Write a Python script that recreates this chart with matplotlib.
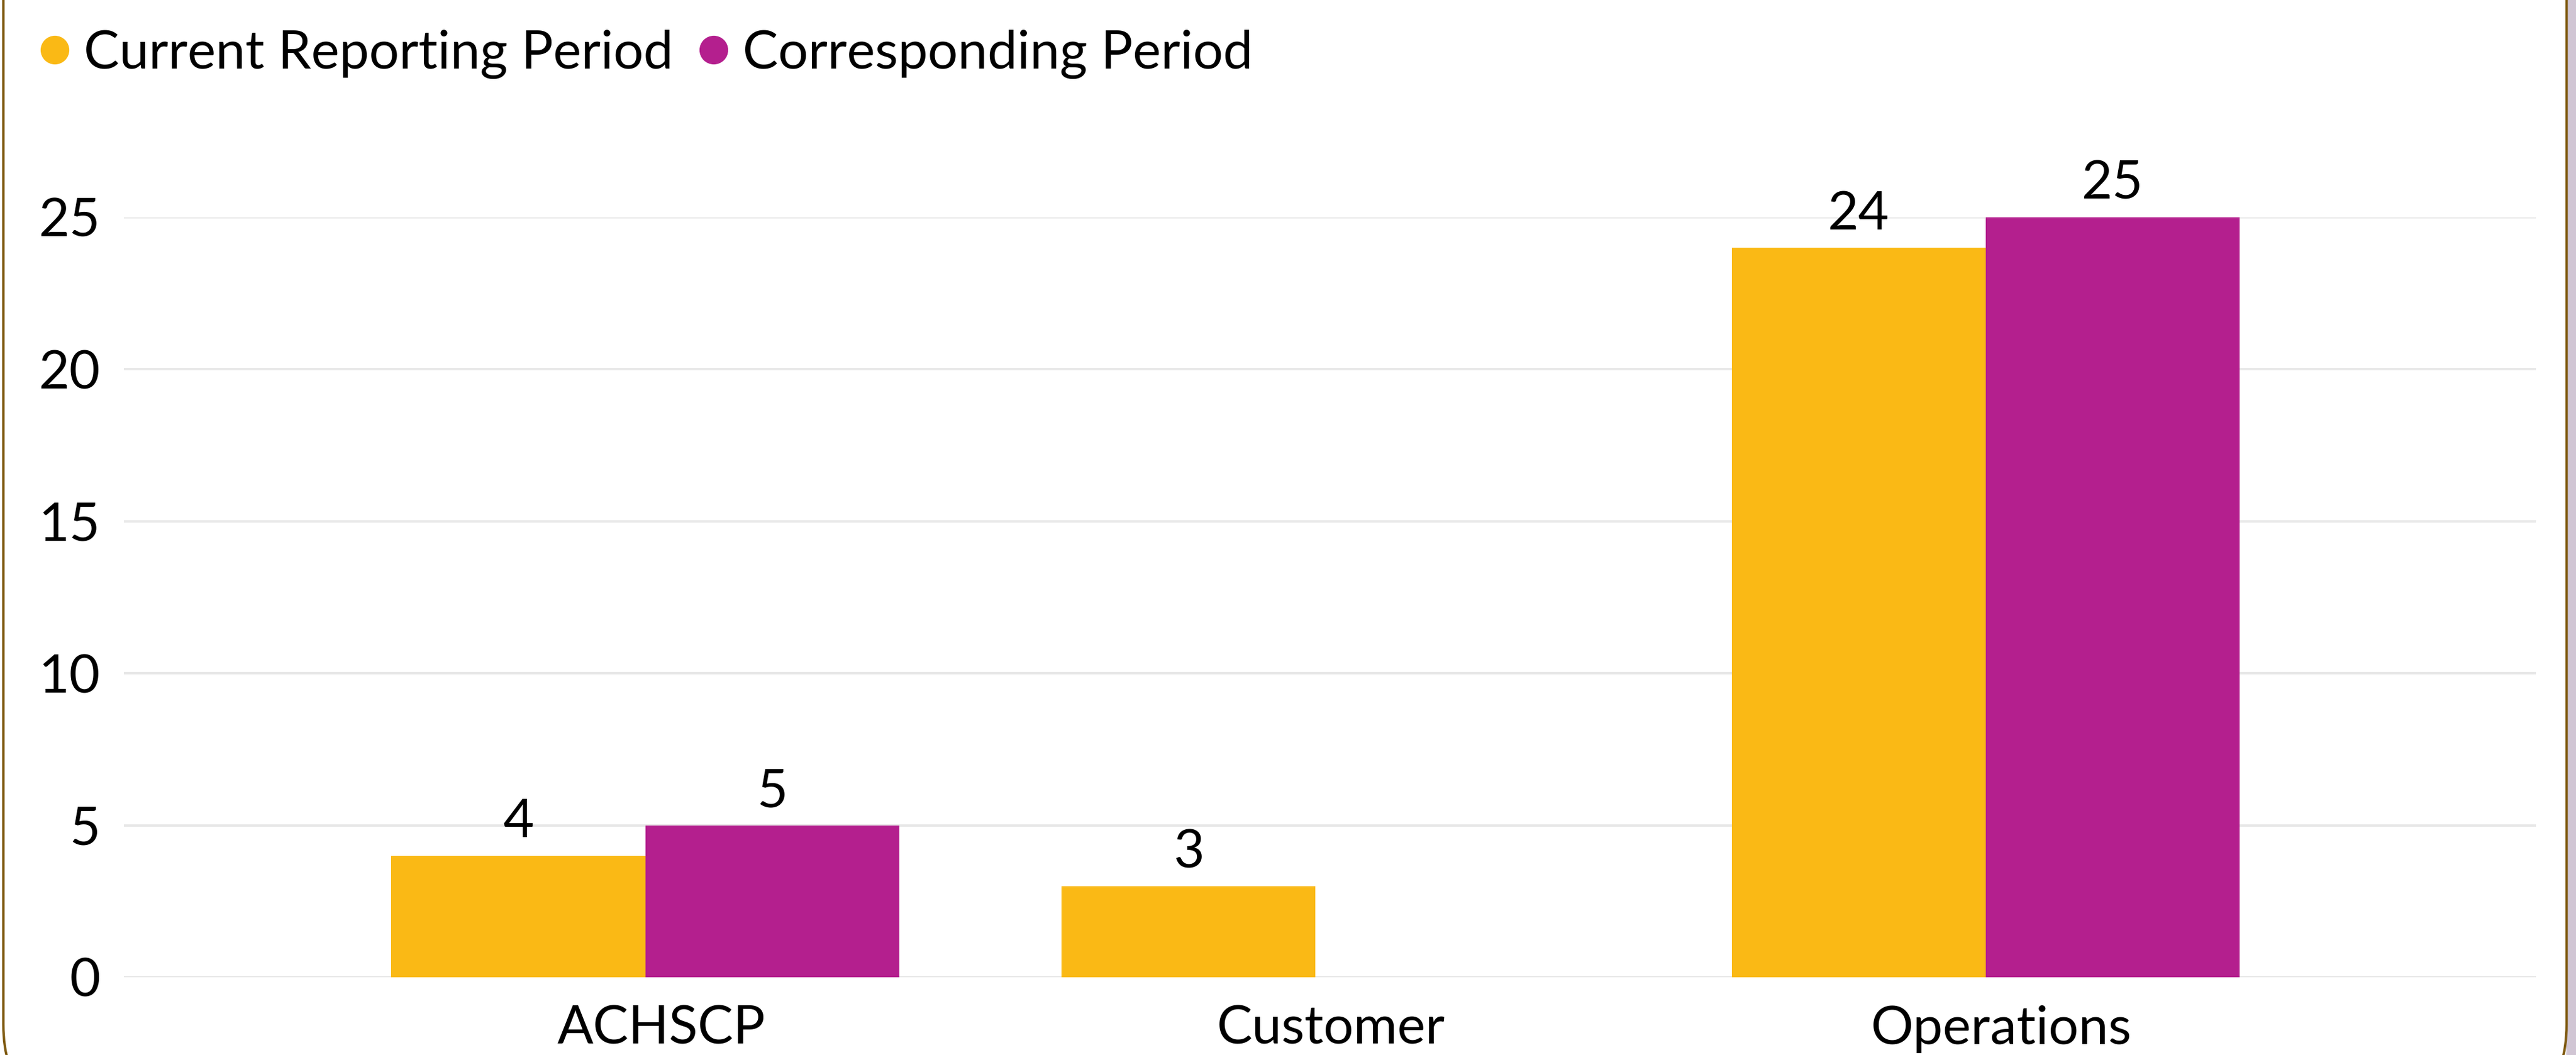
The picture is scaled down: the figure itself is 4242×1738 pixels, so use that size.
import numpy as np
import matplotlib
matplotlib.use("Agg")
import matplotlib.pyplot as plt
from matplotlib.lines import Line2D
from matplotlib.patches import FancyBboxPatch, Rectangle
from matplotlib.transforms import ScaledTranslation

# Data
categories = ["ACHSCP", "Customer", "Operations"]
current_period = [4, 3, 24]
corresponding_period = [5, np.nan, 25]
series_names = ["Current Reporting Period", "Corresponding Period"]
y_ticks = [0, 5, 10, 15, 20, 25]

YELLOW = "#FAB915"
PURPLE = "#B41F8E"
GRID = "#E8E8E8"
BORDER = "#7F5A10"
OUTSIDE = "#D1C6D4"

plt.rcParams["font.family"] = ["Lato", "DejaVu Sans"]
FS = 63

W, H = 4242, 1738
fig = plt.figure(figsize=(W / 100, H / 100), dpi=100)
fig.patch.set_facecolor("white")

# Frame around the chart: lavender page edge on the right, rounded brown border
fig.patches.append(Rectangle((4226 / W, 0), 1, 1, transform=fig.transFigure,
                             facecolor=OUTSIDE, edgecolor="none", zorder=0))
border = FancyBboxPatch((5.5, -100), 4221, 2000,
                        boxstyle="round,pad=0,rounding_size=150",
                        transform=None, facecolor="white",
                        edgecolor=BORDER, linewidth=2.9, zorder=0.6)
fig.patches.append(border)

ax_left, ax_right = 204 / W, 4176 / W
ax_bottom, ax_top = (H - 1610) / H, (H - 358) / H
ax = fig.add_axes([ax_left, ax_bottom, ax_right - ax_left, ax_top - ax_bottom])
ax.set_facecolor("none")
ax.set_zorder(2)

x = np.arange(len(categories))
bw = 0.379
b1 = ax.bar(x - bw / 2, current_period, bw, color=YELLOW, label=series_names[0], zorder=3)
b2 = ax.bar(x + bw / 2, corresponding_period, bw, color=PURPLE, label=series_names[1], zorder=3)

for bars, vals in ((b1, current_period), (b2, corresponding_period)):
    for rect, v in zip(bars, vals):
        if np.isnan(v):
            continue
        ax.annotate(f"{v:g}", (rect.get_x() + rect.get_width() / 2, v),
                    xytext=(0, 22), textcoords="offset points",
                    ha="center", va="baseline", fontsize=FS, color="black",
                    annotation_clip=False)

ax.set_xlim(-0.778, 2.821)
ax.set_ylim(0, 25)
ax.set_yticks(y_ticks)
ax.set_xticks(x)
ax.set_xticklabels(categories)
ax.yaxis.grid(True, color=GRID, linewidth=2.9, zorder=0)
ax.set_axisbelow(True)
for s in ax.spines.values():
    s.set_visible(False)
ax.tick_params(axis="both", length=0, labelsize=FS, colors="black")
ax.tick_params(axis="y", pad=28)
ax.tick_params(axis="x", pad=33)
shift = ScaledTranslation(26 / 100, 0, fig.dpi_scale_trans)
for t in ax.get_xticklabels():
    t.set_transform(t.get_transform() + shift)
for t in ax.get_yticklabels():
    t.set_clip_on(False)

handles = [Line2D([], [], marker="o", linestyle="none", markersize=34,
                  markerfacecolor=c, markeredgecolor="none") for c in (YELLOW, PURPLE)]
leg = fig.legend(handles, series_names, loc="center left",
                 bbox_to_anchor=(64 / W, (H - 89) / H), ncol=2, frameon=False,
                 fontsize=FS, handlelength=0.6, handletextpad=0.25,
                 columnspacing=0.45, borderaxespad=0, borderpad=0)
leg.set_zorder(3)

fig.savefig("out.png", dpi=100, facecolor=fig.get_facecolor())
